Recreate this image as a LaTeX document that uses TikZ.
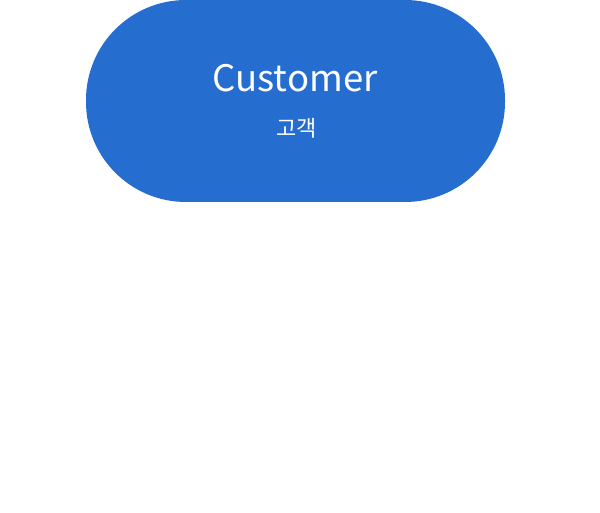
\documentclass[tikz,border=0pt]{standalone}
\usepackage{fontspec}
\usepackage{xcolor}
\usepackage{tikz}
\setmainfont{Noto Sans CJK KR}
\definecolor{highlightcolorc}{HTML}{266DD0}
\colorlet{textc}{white}
\colorlet{highlightcolor}{highlightcolorc}
\colorlet{textcolor}{textc}
\tikzstyle{pillbox} = [
    fill=highlightcolor,
    draw=none,
    rectangle,
    rounded corners=100pt,
    minimum width=419pt,
    minimum height=202pt,
    inner sep=0pt
    ]
\tikzstyle{titletext} = [
    text=textcolor,
    font=\fontsize{36.5}{40}\selectfont,
    inner sep=0pt
    ]
\tikzstyle{subtext} = [
    text=textcolor,
    font=\fontsize{22}{24}\selectfont,
    inner sep=0pt
    ]

\begin{document}
\begin{tikzpicture}[x=1pt,y=-1pt]
\useasboundingbox (0,0) rectangle (600,513);
\node [pillbox] (customer) at (295.5,101) {};
\node [titletext] (customername) at (295,78) {Customer};
\node [subtext] (customerko) at (296.5,128) {고객};
\end{tikzpicture}
\end{document}
